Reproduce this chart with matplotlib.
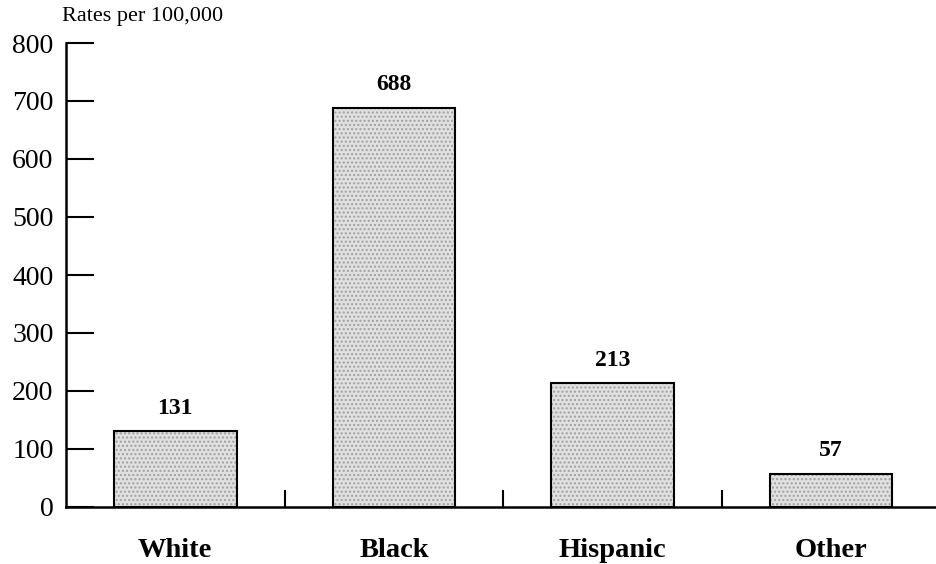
import numpy as np
import matplotlib.pyplot as plt

# data
groups = ["White", "Black", "Hispanic", "Other"]
rates = [131, 688, 213, 57]
y_ticks = [0, 100, 200, 300, 400, 500, 600, 700, 800]

plt.rcParams['font.family'] = ['Liberation Serif', 'DejaVu Serif']

fig = plt.figure(figsize=(9.36, 5.64), dpi=100)
ax = fig.add_axes([66 / 936, 57 / 564, 870 / 936, 464 / 564])

x = np.arange(len(groups))
# stippled gray fill, then black outline on top
ax.bar(x, rates, width=0.56, color="#e0e0e0", edgecolor="#a0a0a0",
       hatch="....", linewidth=0, zorder=2)
ax.bar(x, rates, width=0.56, fill=False, edgecolor="black",
       linewidth=1.5, zorder=3)

for xi, v in zip(x, rates):
    ax.annotate(str(v), (xi, v), xytext=(0, 9), textcoords="offset points",
                ha="center", va="bottom", fontsize=17, fontweight="bold")

ax.set_xlim(-0.5, 3.48)
ax.set_ylim(0, 800)
ax.set_yticks(y_ticks)
ax.tick_params(axis="y", direction="in", length=20, width=1.5,
               labelsize=20, pad=9)

ax.set_xticks(x)
ax.set_xticklabels(groups, fontsize=20.5, fontweight="bold")
ax.tick_params(axis="x", which="major", length=0, pad=22)
ax.set_xticks([0.5, 1.5, 2.5], minor=True)
ax.tick_params(axis="x", which="minor", direction="in", length=12, width=1.5)

for side in ["top", "right"]:
    ax.spines[side].set_visible(False)
for side in ["left", "bottom"]:
    ax.spines[side].set_linewidth(1.8)

fig.text(62 / 936, 1 - 17 / 564, "Rates per 100,000", fontsize=16,
         ha="left", va="center")

plt.savefig("out.png", dpi=100)
